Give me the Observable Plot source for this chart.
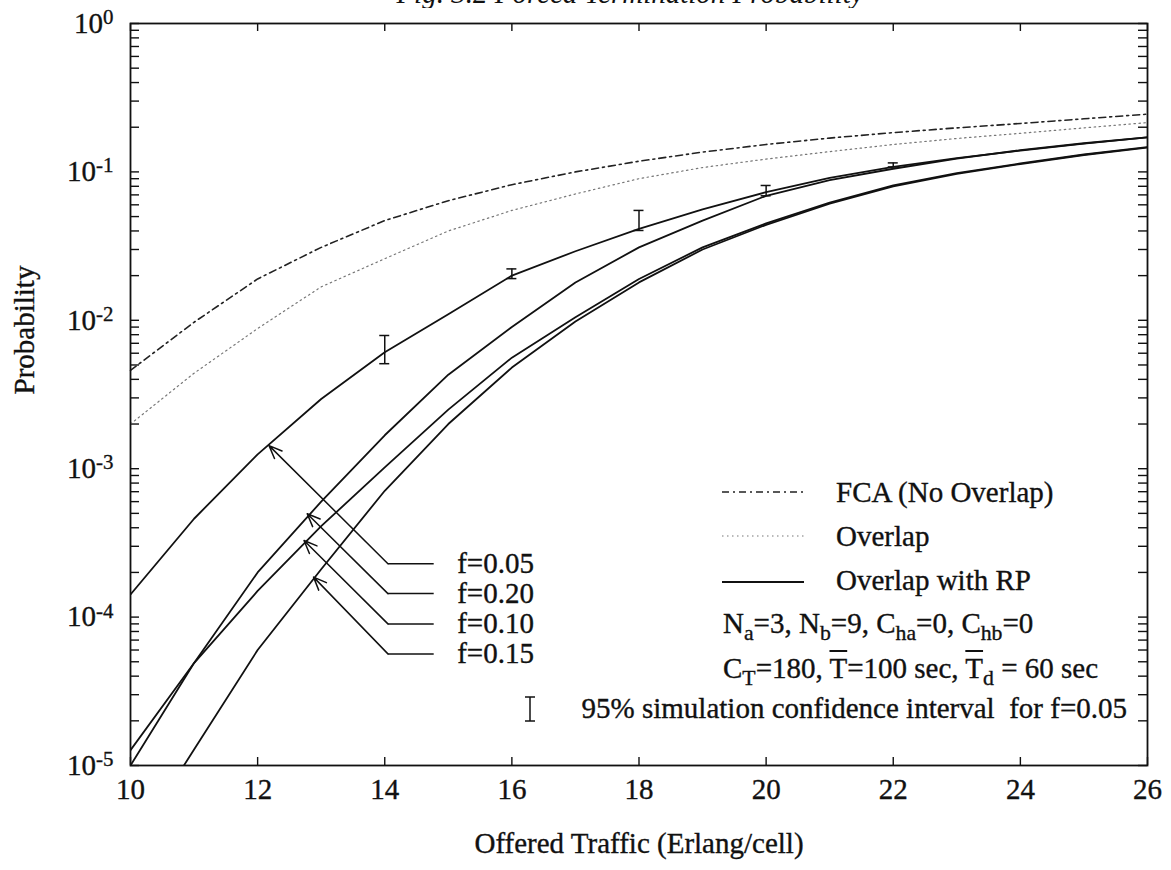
<!DOCTYPE html>
<html>
<head>
<meta charset="utf-8">
<script src="https://cdn.jsdelivr.net/npm/d3@7"></script>
<script src="https://cdn.jsdelivr.net/npm/@observablehq/plot@0.6"></script>
<style>
html, body { margin: 0; padding: 0; background: #fff; }
#wrap { position: relative; width: 1171px; height: 870px; font-family: "Liberation Serif", "Times New Roman", serif; color: #111; overflow: hidden; }
#title { position: absolute; left: 0; top: 0; width: 1171px; height: 8px; overflow: hidden; z-index: 2; }
#title span { position: absolute; left: 630px; top: -21px; transform: translateX(-50%); font-style: italic; font-size: 29px; line-height: 29px; white-space: nowrap; }
#legend { position: absolute; left: 0; top: 0; width: 1171px; height: 870px; pointer-events: none; }
.lrow { position: absolute; font-size: 29px; line-height: 30px; white-space: nowrap; -webkit-text-stroke: 0.35px #111; }
.lrow sub { font-size: 0.75em; vertical-align: -0.32em; line-height: 0; }
.ov { text-decoration: overline; text-decoration-thickness: 1.5px; }
.samp { position: absolute; }
#chart svg text { stroke: #111; stroke-width: 0.35px; }
</style>
</head>
<body>
<div id="wrap">
  <div id="chart"></div>
  <div id="title"><span>Fig. 3.2 Forced Termination Probability</span></div>
  <div id="legend">
    <svg class="samp" style="left:722px;top:489px" width="82" height="6"><line x1="0" y1="3" x2="82" y2="3" stroke="#222" stroke-width="1.6" stroke-dasharray="7,4,2,4"/></svg>
    <div class="lrow" style="left:836px;top:477px">FCA (No Overlap)</div>
    <svg class="samp" style="left:722px;top:533px" width="82" height="6"><line x1="0" y1="3" x2="82" y2="3" stroke="#777" stroke-width="1.2" stroke-dasharray="1.5,3.5"/></svg>
    <div class="lrow" style="left:836px;top:521px">Overlap</div>
    <svg class="samp" style="left:722px;top:579px" width="82" height="6"><line x1="0" y1="3" x2="82" y2="3" stroke="#111" stroke-width="1.8"/></svg>
    <div class="lrow" style="left:836px;top:565px">Overlap with RP</div>
    <div class="lrow" style="left:723px;top:608px">N<sub>a</sub>=3, N<sub>b</sub>=9, C<sub>ha</sub>=0, C<sub>hb</sub>=0</div>
    <div class="lrow" style="left:723px;top:653px">C<sub>T</sub>=180, <span class="ov">T</span>=100 sec, <span class="ov">T</span><sub>d</sub> = 60 sec</div>
    <svg class="samp" style="left:524px;top:696px" width="12" height="26"><line x1="6" y1="1" x2="6" y2="25" stroke="#111" stroke-width="1.5"/><line x1="1" y1="1" x2="11" y2="1" stroke="#111" stroke-width="1.5"/><line x1="1" y1="25" x2="11" y2="25" stroke="#111" stroke-width="1.5"/></svg>
    <div class="lrow" style="right:44px;top:693px">95% simulation confidence interval&nbsp; for f=0.05</div>
  </div>
</div>
<script>
// ---------------- data ----------------
const xGrid = [10, 11, 12, 13, 14, 15, 16, 17, 18, 19, 20, 21, 22, 23, 24, 25, 26];
const fcaNoOverlap = [0.0046, 0.0097, 0.019, 0.031, 0.047, 0.064, 0.082, 0.100, 0.118, 0.136, 0.153, 0.169, 0.184, 0.198, 0.212, 0.228, 0.245];
const overlap = [0.0020, 0.0044, 0.0088, 0.0168, 0.026, 0.040, 0.055, 0.071, 0.090, 0.107, 0.122, 0.137, 0.153, 0.168, 0.182, 0.198, 0.215];
const rpF005 = [1.42e-4, 4.6e-4, 1.25e-3, 2.95e-3, 6.1e-3, 0.0110, 0.0200, 0.0292, 0.0413, 0.056, 0.073, 0.091, 0.108, 0.124, 0.139, 0.155, 0.171];
const rpF020 = [1.0e-5, 4.9e-5, 2.0e-4, 6.0e-4, 1.68e-3, 4.3e-3, 9.0e-3, 0.018, 0.031, 0.047, 0.069, 0.088, 0.105, 0.123, 0.140, 0.156, 0.171];
const rpF010 = [1.27e-5, 4.9e-5, 1.5e-4, 4.1e-4, 1.02e-3, 2.5e-3, 5.6e-3, 0.0105, 0.019, 0.031, 0.045, 0.062, 0.081, 0.098, 0.114, 0.131, 0.147];
const xF015 = [10.84, 11, 12, 13, 14, 15, 16, 17, 18, 19, 20, 21, 22, 23, 24, 25, 26];
const rpF015 = [1.0e-5, 1.28e-5, 6.0e-5, 2.1e-4, 7.1e-4, 2.0e-3, 4.8e-3, 9.8e-3, 0.018, 0.030, 0.044, 0.061, 0.080, 0.097, 0.113, 0.130, 0.146];

// simulation 95% confidence intervals (f=0.05)
const simX = [14, 16, 18, 20, 22];
const simLo = [5.1e-3, 0.0191, 0.0403, 0.069, 0.108];
const simHi = [7.9e-3, 0.0222, 0.055, 0.081, 0.115];

// curve annotations
const annLabels = ["f=0.05", "f=0.20", "f=0.10", "f=0.15"];
const annLabelY = [2.29e-4, 1.44e-4, 9.0e-5, 5.65e-5];
const annHeadX = [12.18, 12.78, 12.73, 12.88];
const annHeadY = [1.43e-3, 4.97e-4, 3.28e-4, 1.86e-4];
const annElbowX = 14.05, annEndX = 14.77, annTextX = 15.14;

// axes
const xTicks = [10, 12, 14, 16, 18, 20, 22, 24, 26];
const yDecades = [1e-5, 1e-4, 1e-3, 1e-2, 1e-1, 1];
const yExponents = ["-5", "-4", "-3", "-2", "-1", "0"];
const yMinorMult = [2, 3, 4, 5, 6, 7, 8, 9];

// ---------------- build tables ----------------
const mk = (xs, ys) => xs.map((x, i) => ({x, y: ys[i]}));
const fcaData = mk(xGrid, fcaNoOverlap);
const ovData = mk(xGrid, overlap);
const rpSeries = [
  {name: "f=0.05", data: mk(xGrid, rpF005)},
  {name: "f=0.20", data: mk(xGrid, rpF020)},
  {name: "f=0.10", data: mk(xGrid, rpF010)},
  {name: "f=0.15", data: mk(xF015, rpF015)}
];
const rpData = rpSeries.flatMap(s => s.data.map(d => ({...d, f: s.name})));
const simData = simX.map((x, i) => ({x, lo: simLo[i], hi: simHi[i]}));
const annData = annLabels.map((label, i) => ({label, ly: annLabelY[i], hx: annHeadX[i], hy: annHeadY[i], ex: annElbowX, endx: annEndX, tx: annTextX}));
const yTickAll = yDecades.slice(0, -1).flatMap(d => yMinorMult.map(m => d * m)).concat(yDecades);
const expOf = new Map(yDecades.map((d, i) => [d, yExponents[i]]));

const W = 1171, H = 870, mL = 130, mR = 24, mT = 23, mB = 105;
const fW = W - mL - mR, fH = H - mT - mB;
const ink = "#111";

const chart = Plot.plot({
  width: W, height: H,
  marginLeft: mL, marginRight: mR, marginTop: mT, marginBottom: mB,
  style: {fontFamily: '"Liberation Serif", "Times New Roman", serif', fontSize: "29px", color: ink, background: "white"},
  x: {domain: [10, 26]},
  y: {type: "log", domain: [1e-5, 1]},
  marks: [
    // ticks (inward)
    Plot.tickX(xTicks, {x: d => d, insetTop: fH - 8, stroke: ink, strokeWidth: 1.4}),
    Plot.tickX(xTicks, {x: d => d, insetBottom: fH - 8, stroke: ink, strokeWidth: 1.4}),
    Plot.tickY(yTickAll, {y: d => d, insetRight: fW - 9, stroke: ink, strokeWidth: 1.4}),
    Plot.tickY(yTickAll, {y: d => d, insetLeft: fW - 9, stroke: ink, strokeWidth: 1.4}),
    Plot.axisX({ticks: xTicks, tickSize: 0, tickPadding: 13, label: null, tickFormat: d => String(d)}),
    Plot.axisY({ticks: yDecades, tickSize: 0, tickPadding: 17, label: null, tickFormat: d => "10^" + expOf.get(d)}),
    // curves
    Plot.line(fcaData, {x: "x", y: "y", stroke: "#222", strokeWidth: 1.6, strokeDasharray: "7,4,2,4"}),
    Plot.line(ovData, {x: "x", y: "y", stroke: "#777", strokeWidth: 1.2, strokeDasharray: "1.5,3.5"}),
    Plot.line(rpData, {x: "x", y: "y", z: "f", stroke: ink, strokeWidth: 1.8, clip: true}),
    // simulation error bars
    Plot.ruleX(simData, {x: "x", y1: "lo", y2: "hi", stroke: ink, strokeWidth: 1.5}),
    Plot.ruleY(simData, {y: "lo", x1: "x", x2: "x", insetLeft: -5, insetRight: -5, stroke: ink, strokeWidth: 1.5}),
    Plot.ruleY(simData, {y: "hi", x1: "x", x2: "x", insetLeft: -5, insetRight: -5, stroke: ink, strokeWidth: 1.5}),
    // annotations
    Plot.link(annData, {x1: "endx", y1: "ly", x2: "ex", y2: "ly", stroke: ink, strokeWidth: 1.5}),
    Plot.arrow(annData, {x1: "ex", y1: "ly", x2: "hx", y2: "hy", stroke: ink, strokeWidth: 1.5, headLength: 14, headAngle: 45}),
    Plot.text(annData, {x: "tx", y: "ly", text: "label", textAnchor: "start", fill: ink, fontSize: 29}),
    // axis titles
    Plot.text(["Probability"], {frameAnchor: "left", dx: -106, rotate: -90, text: d => d, fill: ink, fontSize: 29}),
    Plot.text(["Offered Traffic (Erlang/cell)"], {frameAnchor: "bottom", dy: 87, text: d => d, fill: ink, fontSize: 29}),
    Plot.frame({stroke: ink, strokeWidth: 1.8})
  ]
});
document.getElementById("chart").appendChild(chart);

// superscript exponents on y tick labels
chart.querySelectorAll('g[aria-label="y-axis tick label"] text').forEach(t => {
  const parts = t.textContent.split("^");
  if (parts.length < 2) return;
  t.textContent = parts[0];
  const ts = document.createElementNS("http://www.w3.org/2000/svg", "tspan");
  ts.setAttribute("dy", "-0.42em");
  ts.setAttribute("font-size", "0.72em");
  ts.textContent = parts[1];
  t.appendChild(ts);
});
</script>
</body>
</html>
